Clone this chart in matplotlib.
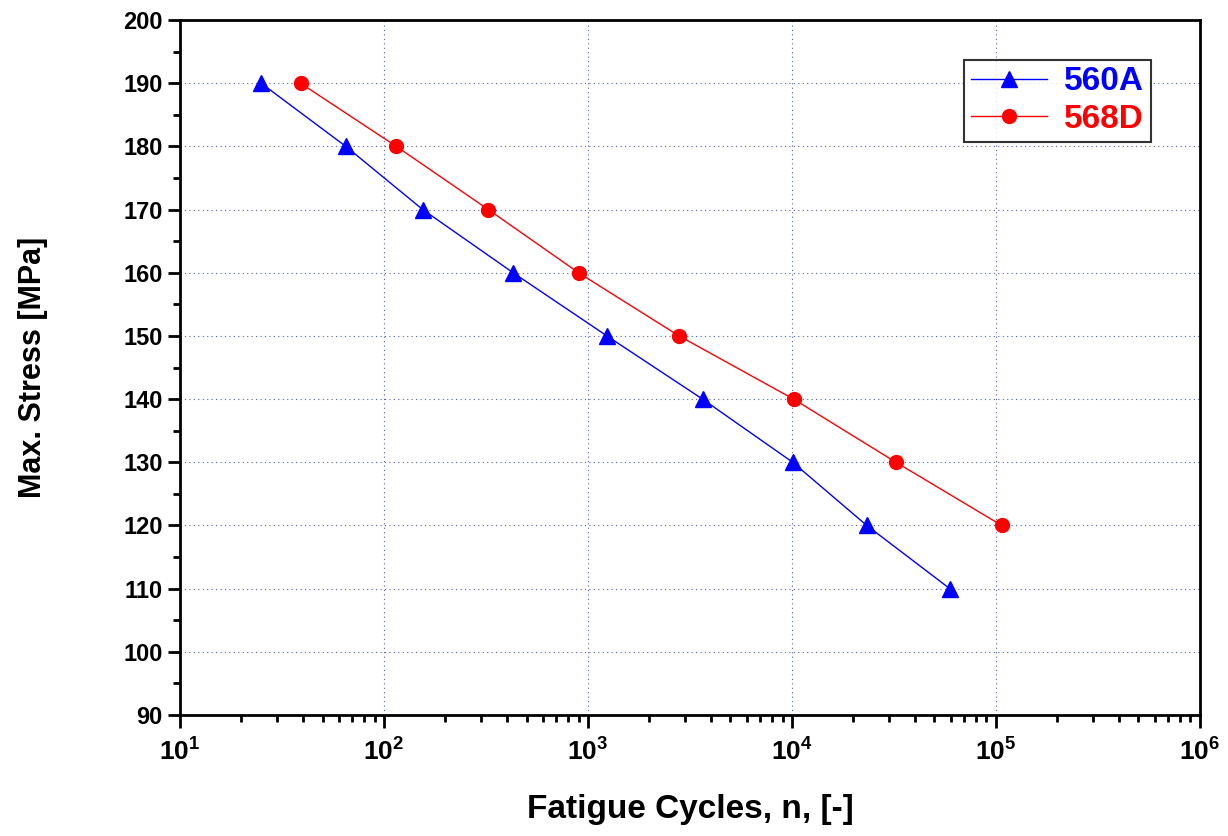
import matplotlib
matplotlib.use("Agg")
import matplotlib.pyplot as plt
from matplotlib.ticker import LogLocator, MultipleLocator, FuncFormatter
import numpy as np

plt.rcParams['font.family'] = ['Liberation Sans', 'DejaVu Sans']
plt.rcParams['font.weight'] = 'bold'
plt.rcParams['mathtext.fontset'] = 'custom'
plt.rcParams['mathtext.rm'] = 'Liberation Sans:bold'
plt.rcParams['mathtext.bf'] = 'Liberation Sans:bold'

# S-N data
stress_560a = [190, 180, 170, 160, 150, 140, 130, 120, 110]
cycles_560a = [25, 65, 155, 430, 1240, 3650, 10100, 23300, 59500]

stress_568d = [190, 180, 170, 160, 150, 140, 130, 120]
cycles_568d = [39, 115, 325, 900, 2800, 10200, 32400, 107000]

fig = plt.figure(figsize=(12.28, 8.36), dpi=100)
ax = fig.add_axes([0.1466, 0.1447, 0.8304, 0.8313])

ax.plot(cycles_560a, stress_560a, color='#0000ff', lw=1, marker='^', ms=12, label='560A')
ax.plot(cycles_568d, stress_568d, color='#ff0000', lw=1, marker='o', ms=10, label='568D')

ax.set_xscale('log')
ax.set_xlim(10, 1e6)
ax.set_ylim(90, 200)
ax.yaxis.set_major_locator(MultipleLocator(10))
ax.yaxis.set_minor_locator(MultipleLocator(5))
ax.xaxis.set_major_locator(LogLocator(base=10, numticks=10))
ax.xaxis.set_minor_locator(LogLocator(base=10, subs=range(2, 10), numticks=20))
ax.xaxis.set_major_formatter(FuncFormatter(lambda v, p: r'$\mathbf{10^{%d}}$' % round(np.log10(v))))

ax.grid(True, which='major', linestyle=(0, (1, 3)), color='#5060c0', lw=0.8)
ax.tick_params(which='major', direction='out', length=9, width=2, labelsize=17)
ax.tick_params(axis='x', which='major', labelsize=19, pad=8)
ax.tick_params(which='minor', direction='out', length=5, width=2)
for s in ax.spines.values():
    s.set_linewidth(2)

ax.set_xlabel('Fatigue Cycles, n, [-]', fontsize=24, fontweight='bold', labelpad=20)
ax.set_ylabel('Max. Stress [MPa]', fontsize=22, fontweight='bold', labelpad=54)

leg = ax.legend(loc='upper right', bbox_to_anchor=(0.952, 0.943), fontsize=24,
                frameon=True, fancybox=False, edgecolor='black', handlelength=2.3,
                borderpad=0.2, labelspacing=0.2, handletextpad=0.5, borderaxespad=0)
leg.get_frame().set_linewidth(1.5)
for txt, c in zip(leg.get_texts(), ['#0000ff', '#ff0000']):
    txt.set_color(c)

fig.savefig('out.png', dpi=100)
